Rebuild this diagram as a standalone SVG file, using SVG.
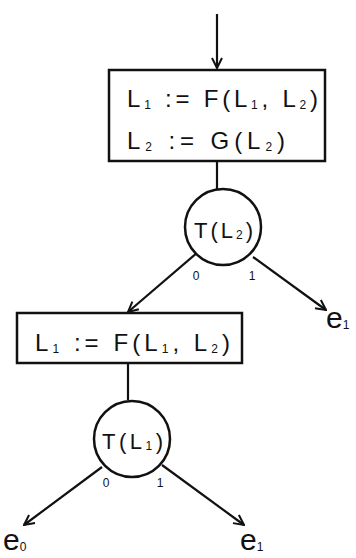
<svg xmlns="http://www.w3.org/2000/svg" width="356" height="558" viewBox="0 0 356 558">
  <defs>
    <marker id="arrow" viewBox="0 0 12 12" refX="11" refY="6" markerWidth="12" markerHeight="12" markerUnits="userSpaceOnUse" orient="auto">
      <polyline points="1,1 11,6 1,11" fill="none" stroke="#111" stroke-width="2"/>
    </marker>
  </defs>
  <style>
    .shape { fill: #fff; stroke: #111; stroke-width: 2.5; }
    .edge { fill: none; stroke: #111; stroke-width: 2.2; }
    .txt { font-family: "Liberation Sans", "DejaVu Sans", sans-serif; fill: #111; }
    .box { font-size: 24px; }
    .circ { font-size: 22px; }
    .sub { font-size: 12px; }
    .lbl { font-size: 12px; }
    .term { font-size: 30px; }
  </style>
  <rect width="356" height="558" fill="#fff"/>

  <g id="connectors">
    <line class="edge" x1="217" y1="14" x2="217" y2="68" marker-end="url(#arrow)"/>
    <line class="edge" x1="217" y1="161" x2="217" y2="190"/>
    <line class="edge" x1="198" y1="252" x2="128" y2="312" marker-end="url(#arrow)"/>
    <line class="edge" x1="253" y1="257" x2="326" y2="310" marker-end="url(#arrow)"/>
    <line class="edge" x1="128" y1="363" x2="128" y2="400"/>
    <line class="edge" x1="102" y1="467" x2="24" y2="525" marker-end="url(#arrow)"/>
    <line class="edge" x1="162" y1="465" x2="244" y2="525" marker-end="url(#arrow)"/>
  </g>

  <g id="assign-both">
    <rect class="shape" x="109" y="70" width="216" height="91"/>
    <text class="txt box" x="127" y="107" textLength="191" lengthAdjust="spacing">L<tspan class="sub" dy="2">1</tspan><tspan dy="-2"> := F(L</tspan><tspan class="sub" dy="2">1</tspan><tspan dy="-2">, L</tspan><tspan class="sub" dy="2">2</tspan><tspan dy="-2">)</tspan></text>
    <text class="txt box" x="127" y="149" textLength="158" lengthAdjust="spacing">L<tspan class="sub" dy="2">2</tspan><tspan dy="-2"> := G(L</tspan><tspan class="sub" dy="2">2</tspan><tspan dy="-2">)</tspan></text>
  </g>

  <g id="test-l2">
    <circle class="shape" cx="223" cy="227" r="38"/>
    <text class="txt circ" x="194" y="238" textLength="59" lengthAdjust="spacing">T(L<tspan class="sub" dy="1">2</tspan><tspan dy="-1">)</tspan></text>
    <text class="txt lbl" x="196" y="280" text-anchor="middle">0</text>
    <text class="txt lbl" x="252" y="280" text-anchor="middle">1</text>
  </g>

  <g id="exit-e1-top">
    <text class="txt term" x="326" y="328">e<tspan class="sub" dy="1" font-size="14">1</tspan></text>
  </g>

  <g id="assign-l1">
    <rect class="shape" x="17" y="313" width="225" height="50"/>
    <text class="txt box" x="35" y="351" textLength="195" lengthAdjust="spacing">L<tspan class="sub" dy="2">1</tspan><tspan dy="-2"> := F(L</tspan><tspan class="sub" dy="2">1</tspan><tspan dy="-2">, L</tspan><tspan class="sub" dy="2">2</tspan><tspan dy="-2">)</tspan></text>
  </g>

  <g id="test-l1">
    <circle class="shape" cx="132" cy="439" r="38"/>
    <text class="txt circ" x="102" y="449" textLength="61" lengthAdjust="spacing">T(L<tspan class="sub" dy="1">1</tspan><tspan dy="-1">)</tspan></text>
    <text class="txt lbl" x="106" y="487" text-anchor="middle">0</text>
    <text class="txt lbl" x="160" y="487" text-anchor="middle">1</text>
  </g>

  <g id="exit-e0">
    <text class="txt term" x="3" y="550">e<tspan class="sub" dy="1" font-size="14">0</tspan></text>
  </g>

  <g id="exit-e1-bottom">
    <text class="txt term" x="240" y="550">e<tspan class="sub" dy="1" font-size="14">1</tspan></text>
  </g>
</svg>
